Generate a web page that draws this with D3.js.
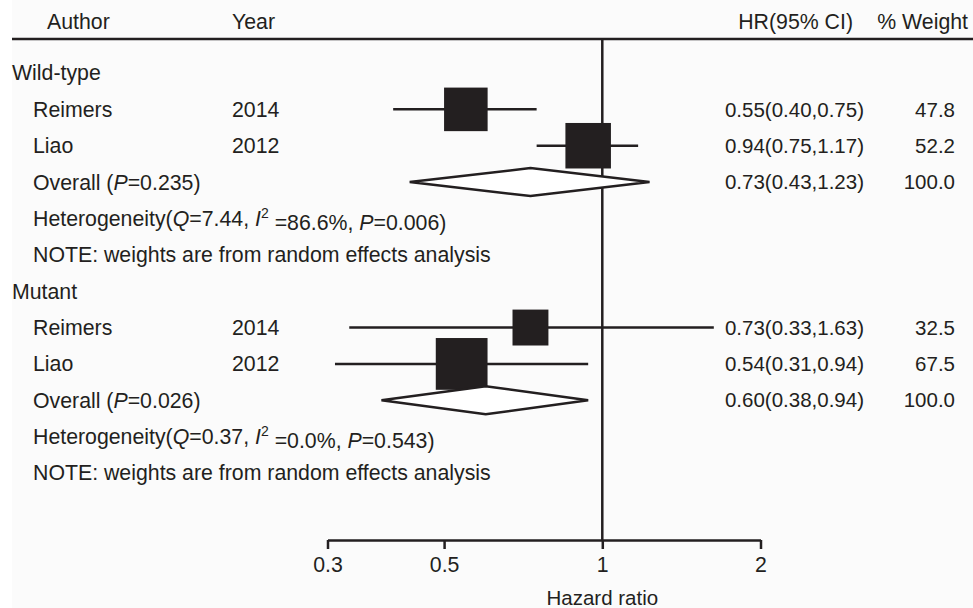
<!DOCTYPE html>
<html>
<head>
<meta charset="utf-8">
<script src="https://cdn.jsdelivr.net/npm/d3@7"></script>
<style>
  body { margin: 0; background: #fff; }
  svg text { font-family: "Liberation Sans", Arial, sans-serif; font-size: 21.3px; fill: #231f20; }
  svg text.num { font-size: 20.5px; }
</style>
</head>
<body>
<div class="chart"></div>
<script>
const w = 973;
const h = 608;

// data
const groups = ["Wild-type", "Mutant"];
const authors = ["Reimers", "Liao", "Reimers", "Liao"];
const years = ["2014", "2012", "2014", "2012"];
const studyGroup = [0, 0, 1, 1];
const hr = [0.55, 0.94, 0.73, 0.54];
const lo = [0.40, 0.75, 0.33, 0.31];
const hi = [0.75, 1.17, 1.63, 0.94];
const weights = [47.8, 52.2, 32.5, 67.5];

const overallHr = [0.73, 0.60];
const overallLo = [0.43, 0.38];
const overallHi = [1.23, 0.94];
const overallP = ["0.235", "0.026"];
const hetQ = ["7.44", "0.37"];
const hetI2 = ["86.6%", "0.0%"];
const hetP = ["0.006", "0.543"];

const xTicks = [0.3, 0.5, 1, 2];

const ink = "#231f20";

const svg = d3.select(".chart").append("svg")
    .attr("width", w)
    .attr("height", h);

svg.append("rect")
    .attr("x", 12).attr("y", 0)
    .attr("width", w - 12).attr("height", h)
    .attr("fill", "#fbfbfb");

const x = d3.scaleLog()
    .domain([0.3, 2])
    .range([327.5, 760.5]);

// 12 rows: group, 2 studies, overall, heterogeneity, note -- twice
const y = d3.scaleLinear()
    .domain([0, 11])
    .range([73, 473]);

// square side grows with sqrt of the weight
const size = d3.scaleSqrt()
    .domain([0, 100])
    .range([0, 63]);

const fmt = v => v.toFixed(2);

// header
const header = svg.append("g");
header.append("text").attr("x", 47).attr("y", 22).attr("dy", "0.35em").text("Author");
header.append("text").attr("x", 232).attr("y", 22).attr("dy", "0.35em").text("Year");
header.append("text").attr("x", 853).attr("y", 22).attr("dy", "0.35em")
    .attr("text-anchor", "end").text("HR(95% CI)");
header.append("text").attr("x", 968).attr("y", 22).attr("dy", "0.35em")
    .attr("text-anchor", "end").text("% Weight");

svg.append("line")
    .attr("x1", 12).attr("x2", w)
    .attr("y1", 39).attr("y2", 39)
    .attr("stroke", ink).attr("stroke-width", 2.5);

// null line
svg.append("line")
    .attr("x1", x(1)).attr("x2", x(1))
    .attr("y1", 39).attr("y2", 540)
    .attr("stroke", ink).attr("stroke-width", 2.5);

const body = svg.append("g");

groups.forEach((g, gi) => {
  const base = gi * 6;
  body.append("text").attr("x", 12).attr("y", y(base)).attr("dy", "0.35em").text(g);

  // studies
  studyGroup.forEach((sg, i) => {
    if (sg !== gi) return;
    const r = y(base + 1 + (i - gi * 2));
    body.append("text").attr("x", 33).attr("y", r).attr("dy", "0.35em").text(authors[i]);
    body.append("text").attr("x", 232).attr("y", r).attr("dy", "0.35em").text(years[i]);
    body.append("line")
        .attr("x1", x(lo[i])).attr("x2", x(hi[i]))
        .attr("y1", r).attr("y2", r)
        .attr("stroke", ink).attr("stroke-width", 2.5);
    const s = size(weights[i]);
    body.append("rect")
        .attr("x", x(hr[i]) - s / 2).attr("y", r - s / 2)
        .attr("width", s).attr("height", s)
        .attr("fill", ink);
    body.append("text").attr("class", "num").attr("x", 864).attr("y", r).attr("dy", "0.35em")
        .attr("text-anchor", "end")
        .text(`${fmt(hr[i])}(${fmt(lo[i])},${fmt(hi[i])})`);
    body.append("text").attr("class", "num").attr("x", 955).attr("y", r).attr("dy", "0.35em")
        .attr("text-anchor", "end").text(weights[i].toFixed(1));
  });

  // overall
  const ro = y(base + 3);
  const ov = body.append("text").attr("x", 33).attr("y", ro).attr("dy", "0.35em");
  ov.append("tspan").text("Overall (");
  ov.append("tspan").attr("font-style", "italic").text("P");
  ov.append("tspan").text("=" + overallP[gi] + ")");

  const dh = 14;
  body.append("path")
      .attr("d", `M${x(overallLo[gi])},${ro} L${x(overallHr[gi])},${ro - dh} L${x(overallHi[gi])},${ro} L${x(overallHr[gi])},${ro + dh} Z`)
      .attr("fill", "#fff")
      .attr("stroke", ink).attr("stroke-width", 2.5)
      .attr("stroke-linejoin", "miter");
  body.append("text").attr("class", "num").attr("x", 864).attr("y", ro).attr("dy", "0.35em")
      .attr("text-anchor", "end")
      .text(`${fmt(overallHr[gi])}(${fmt(overallLo[gi])},${fmt(overallHi[gi])})`);
  body.append("text").attr("class", "num").attr("x", 955).attr("y", ro).attr("dy", "0.35em")
      .attr("text-anchor", "end").text("100.0");

  // heterogeneity
  const rh = y(base + 4);
  const het = body.append("text").attr("x", 33).attr("y", rh).attr("dy", "0.35em");
  het.append("tspan").text("Heterogeneity(");
  het.append("tspan").attr("font-style", "italic").text("Q");
  het.append("tspan").text("=" + hetQ[gi] + ", ");
  het.append("tspan").attr("font-style", "italic").text("I");
  het.append("tspan").attr("font-size", "14px").attr("dy", "-0.55em").text("2");
  het.append("tspan").attr("dy", "0.55em").text(" =" + hetI2[gi] + ", ");
  het.append("tspan").attr("font-style", "italic").text("P");
  het.append("tspan").text("=" + hetP[gi] + ")");

  body.append("text").attr("x", 33).attr("y", y(base + 5)).attr("dy", "0.35em")
      .text("NOTE: weights are from random effects analysis");
});

// axis
const axis = d3.axisBottom(x)
    .tickValues(xTicks)
    .tickFormat(d3.format("~g"))
    .tickSize(9)
    .tickSizeOuter(0)
    .tickPadding(8);

const gAx = svg.append("g")
    .attr("transform", "translate(0,540)")
    .call(axis);
gAx.select(".domain").attr("stroke", ink).attr("stroke-width", 2.5);
gAx.selectAll(".tick line").attr("stroke", ink).attr("stroke-width", 2.5);
gAx.selectAll(".tick text")
    .attr("font-family", null).attr("font-size", null)
    .style("fill", ink);

svg.append("text")
    .attr("x", x(1)).attr("y", 598).attr("dy", "0.35em")
    .attr("text-anchor", "middle")
    .style("font-size", "20.5px")
    .text("Hazard ratio");
</script>
</body>
</html>
